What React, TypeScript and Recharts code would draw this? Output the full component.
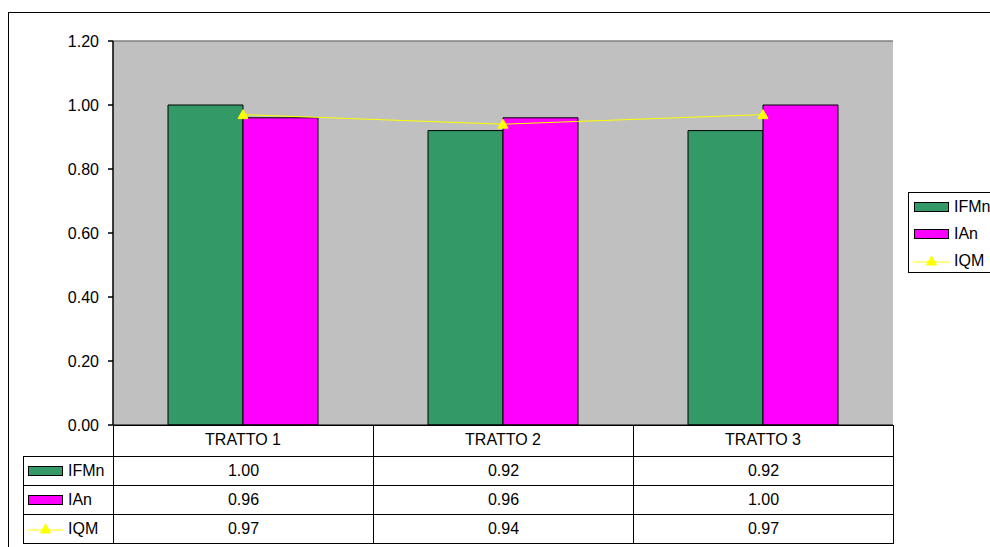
import React from 'react';
import { ComposedChart, Bar, Line, XAxis, YAxis, CartesianGrid, ReferenceLine } from 'recharts';

const categories = ['TRATTO 1', 'TRATTO 2', 'TRATTO 3'];
const ifmnValues = [1.0, 0.92, 0.92];
const ianValues = [0.96, 0.96, 1.0];
const iqmValues = [0.97, 0.94, 0.97];
const yTicks = [0, 0.2, 0.4, 0.6, 0.8, 1.0, 1.2];

type Serie = { key: string; values: number[]; color: string; kind: 'bar' | 'line' };

const series: Serie[] = [
  { key: 'IFMn', values: ifmnValues, color: '#339966', kind: 'bar' },
  { key: 'IAn', values: ianValues, color: '#FF00FF', kind: 'bar' },
  { key: 'IQM', values: iqmValues, color: '#FFFF00', kind: 'line' },
];

const data = categories.map((name, i) => {
  const row: { [k: string]: string | number } = { name };
  series.forEach((s) => (row[s.key] = s.values[i]));
  return row;
});

const FONT = '"Liberation Sans", Arial, Helvetica, sans-serif';
const LINE_COLOR = '#000';

const triangle = (cx: number, cy: number) =>
  `M${cx},${cy - 5}L${cx + 5},${cy + 4}L${cx - 5},${cy + 4}Z`;

const TriangleDot = (props: any) => {
  const { cx, cy } = props;
  if (cx == null || cy == null) return null;
  return <path d={triangle(cx, cy)} fill="#FFFF00" stroke="#FFFF00" />;
};

const CategoryTick = (props: any) => {
  const { x, y, payload } = props;
  return (
    <text x={x} y={y + 14} textAnchor="middle" dominantBaseline="central" fontSize={16} fill="#000" fontFamily={FONT}>
      {payload.value}
    </text>
  );
};

// legend key: box for bars, line with triangle marker for the line series
const Swatch = ({ s }: { s: Serie }) =>
  s.kind === 'bar' ? (
    <span
      style={{
        display: 'inline-block',
        width: 33,
        height: 8,
        background: s.color,
        border: '1px solid #000',
      }}
    />
  ) : (
    <svg width={35} height={12} style={{ display: 'block' }}>
      <line x1={0} y1={7} x2={35} y2={7} stroke={s.color} strokeWidth={1} />
      <path d={triangle(17.5, 6)} fill={s.color} stroke={s.color} />
    </svg>
  );

const cellStyle: React.CSSProperties = {
  border: `1px solid ${LINE_COLOR}`,
  padding: 0,
  textAlign: 'center',
  fontSize: 16,
  color: '#000',
};

const App: React.FC = () => {
  return (
    <div
      style={{
        position: 'fixed',
        left: 0,
        top: 0,
        width: 990,
        height: 547,
        overflow: 'hidden',
        background: '#fff',
        fontFamily: FONT,
      }}
    >
      <div
        style={{
          position: 'absolute',
          left: 8,
          top: 12,
          width: 1000,
          height: 560,
          border: '1.5px solid #000',
        }}
      />

      <div style={{ position: 'absolute', left: 0, top: 0 }}>
        <ComposedChart
          width={990}
          height={547}
          data={data}
          margin={{ top: 41, right: 97, bottom: 92, left: 53 }}
          barSize={75}
          barGap={0}
        >
          <CartesianGrid horizontal={false} vertical={false} fill="#C0C0C0" yAxisId="left" />
          <XAxis
            dataKey="name"
            height={30}
            axisLine={{ stroke: LINE_COLOR, strokeWidth: 1 }}
            tickLine={false}
            tickSize={0}
            tickMargin={0}
            tick={<CategoryTick />}
            interval={0}
          />
          <YAxis
            yAxisId="left"
            width={60}
            domain={[0, 1.2]}
            ticks={yTicks}
            interval={0}
            tickFormatter={(v: number) => v.toFixed(2)}
            axisLine={{ stroke: LINE_COLOR, strokeWidth: 1.5 }}
            tickLine={{ stroke: LINE_COLOR, strokeWidth: 1.5 }}
            tickSize={5}
            tickMargin={9}
            tick={{ fontSize: 16, fill: '#000', fontFamily: FONT }}
          />
          <YAxis
            yAxisId="right"
            orientation="right"
            width={0}
            domain={[0, 1.2]}
            tick={false}
            tickLine={false}
            axisLine={{ stroke: '#808080', strokeWidth: 2 }}
          />
          <ReferenceLine yAxisId="left" y={1.2} stroke="#808080" strokeWidth={1.5} />
          {series
            .filter((s) => s.kind === 'bar')
            .map((s) => (
              <Bar
                key={s.key}
                yAxisId="left"
                dataKey={s.key}
                fill={s.color}
                stroke="#000"
                strokeWidth={1}
                isAnimationActive={false}
              />
            ))}
          {series
            .filter((s) => s.kind === 'line')
            .map((s) => (
              <Line
                key={s.key}
                yAxisId="left"
                type="linear"
                dataKey={s.key}
                stroke={s.color}
                strokeWidth={1}
                dot={(p: any) => <TriangleDot key={`dot-${p.index}`} {...p} />}
                activeDot={false}
                isAnimationActive={false}
              />
            ))}
        </ComposedChart>
      </div>

      {/* data table under the plot */}
      <table
        style={{
          position: 'absolute',
          left: 23,
          top: 425,
          borderCollapse: 'collapse',
          tableLayout: 'fixed',
          width: 870,
          fontFamily: FONT,
        }}
      >
        <colgroup>
          <col style={{ width: 90 }} />
          {categories.map((c) => (
            <col key={c} style={{ width: 260 }} />
          ))}
        </colgroup>
        <tbody>
          <tr style={{ height: 31 }}>
            <td style={{ ...cellStyle, borderTop: 'none', borderLeft: 'none' }} />
            {categories.map((c) => (
              <td key={c} style={cellStyle} />
            ))}
          </tr>
          {series.map((s) => (
            <tr key={s.key} style={{ height: 29 }}>
              <td style={{ ...cellStyle, textAlign: 'left' }}>
                <div style={{ display: 'flex', alignItems: 'center', paddingLeft: 4 }}>
                  <Swatch s={s} />
                  <span style={{ marginLeft: 5 }}>{s.key}</span>
                </div>
              </td>
              {s.values.map((v, i) => (
                <td key={i} style={cellStyle}>
                  {v.toFixed(2)}
                </td>
              ))}
            </tr>
          ))}
        </tbody>
      </table>

      {/* legend box at the right */}
      <div
        style={{
          position: 'absolute',
          left: 908,
          top: 192,
          width: 100,
          height: 81,
          border: '1px solid #000',
          background: '#fff',
          boxSizing: 'border-box',
        }}
      >
        {series.map((s) => (
          <div
            key={s.key}
            style={{ display: 'flex', alignItems: 'center', height: 27, paddingLeft: 5, fontSize: 16, color: '#000' }}
          >
            <Swatch s={s} />
            <span style={{ marginLeft: 5 }}>{s.key}</span>
          </div>
        ))}
      </div>
    </div>
  );
};

export default App;
